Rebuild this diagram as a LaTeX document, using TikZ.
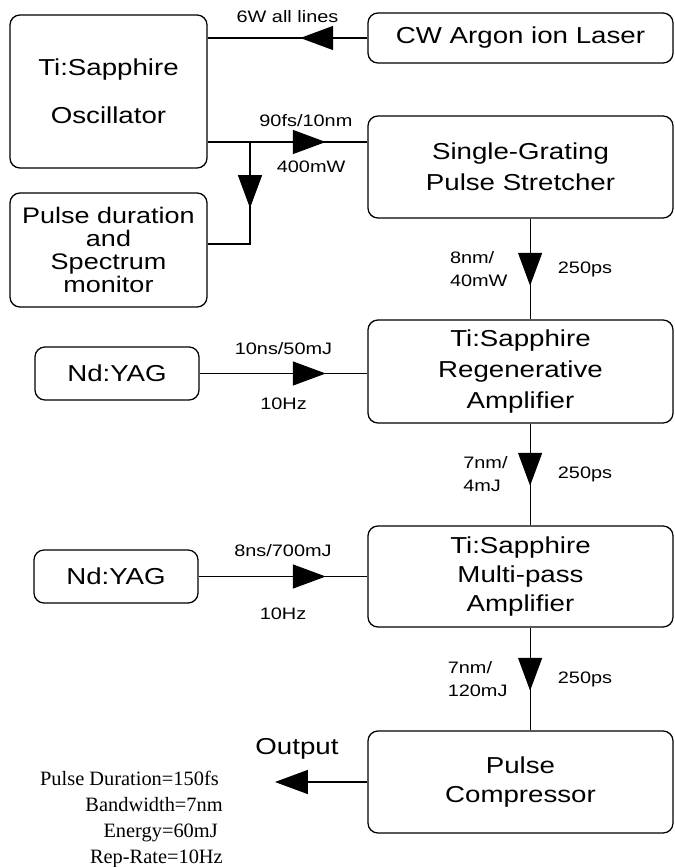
\documentclass[tikz,border=0pt]{standalone}
\usepackage{fontspec}
\setmainfont{Liberation Serif}
\setsansfont{Liberation Sans}[FakeStretch=1.2]
\usepackage{tikz}
\usetikzlibrary{arrows.meta, positioning, decorations.markings}

\begin{document}
\begin{tikzpicture}[x=0.025cm, y=-0.025cm]

    % Define styles for the nodes
    \tikzstyle{device} = [
        rectangle, rounded corners=0.25cm, draw=black, line width=0.9pt,
        align=center, inner sep=0pt, minimum width=7.625cm,
        font=\sffamily\fontsize{16.4}{22}\selectfont
    ]
    \tikzstyle{pump} = [device, minimum width=4.1cm, minimum height=1.325cm]
    \tikzstyle{tag} = [inner sep=0pt, align=left, font=\sffamily\fontsize{11.8}{16.4}\selectfont]
    \tikzstyle{spec} = [inner sep=0pt, anchor=base east, font=\fontsize{14.5}{16}\selectfont]
    \tikzstyle{arrow} = [line width=0.8pt, -{Triangle[length=0.82cm, width=0.6cm]}]
    \tikzset{beam/.style={line width=0.8pt, postaction={decorate},
        decoration={markings, mark=at position #1 with {\arrow{Triangle[length=0.82cm, width=0.6cm]}}}}}

    \useasboundingbox (0,0) rectangle (675,867);

    % Nodes
    \node (osc) [device, minimum width=4.925cm, minimum height=3.825cm] at (108.5,91.5) {Ti:Sapphire\\[12pt]Oscillator};
    \node (argon) [device, minimum height=1.25cm] at (520.5,38) {CW Argon ion Laser};
    \node (stretcher) [device, minimum height=2.55cm] at (520.5,167) {Single-Grating\\Pulse Stretcher};
    \node (monitor) [device, minimum width=4.925cm, minimum height=2.85cm, font=\sffamily\fontsize{16}{16.2}\selectfont] at (108.5,250) {Pulse duration\\and\\Spectrum\\monitor};
    \node (regen) [device, minimum height=2.575cm] at (520.5,371.5) {Ti:Sapphire\\Regenerative\\Amplifier};
    \node (yag1) [pump] at (117,373.5) {Nd:YAG};
    \node (multipass) [device, minimum height=2.525cm] at (520.5,576.5) {Ti:Sapphire\\[-1.5pt]Multi-pass\\[-1.5pt]Amplifier};
    \node (yag2) [pump] at (116,576.5) {Nd:YAG};
    \node (compressor) [device, minimum height=2.55cm] at (520.5,782) {Pulse\\[-1.5pt]Compressor};
    \node (outtext) [font=\sffamily\fontsize{16.4}{22}\selectfont, inner sep=0pt] at (297,749) {Output};

    \coordinate (split) at (250,142);
    \coordinate (output) at (275,782);

    % Arrows
    \draw [beam=1.675cm] (argon.west) -- (argon.west -| osc.east) node [tag, midway, above=0.36cm] {6W all lines};
    \draw [beam=2.95cm] (osc.east |- split) -- (stretcher.west |- split)
        node [tag, midway, above=0.375cm, xshift=0.46cm] {90fs/10nm}
        node [tag, midway, below=0.45cm, xshift=0.59cm] {400mW};
    \draw [beam=1.65cm] (split) |- ([yshift=0.15cm]monitor.east);
    \draw [beam=1.675cm] ([xshift=0.24cm]stretcher.south) -- ([xshift=0.24cm]regen.north)
        node [tag, midway, left=0.55cm] {8nm/\\40mW}
        node [tag, midway, right=0.68cm] {250ps};
    \draw [beam=3.15cm] (yag1.east) -- (yag1.east -| regen.west)
        node [tag, midway, above=0.46cm] {10ns/50mJ}
        node [tag, midway, below=0.59cm] {10Hz};
    \draw [beam=1.55cm] ([xshift=0.24cm]regen.south) -- ([xshift=0.24cm]multipass.north)
        node [tag, midway, left=0.55cm] {7nm/\\4mJ}
        node [tag, midway, right=0.68cm] {250ps};
    \draw [beam=3.175cm] (yag2.east) -- (yag2.east -| multipass.west)
        node [tag, midway, above=0.49cm] {8ns/700mJ}
        node [tag, midway, below=0.78cm] {10Hz};
    \draw [beam=1.575cm] ([xshift=0.24cm]multipass.south) -- ([xshift=0.24cm]compressor.north)
        node [tag, midway, left=0.55cm] {7nm/\\120mJ}
        node [tag, midway, right=0.68cm] {250ps};
    \draw [arrow] (compressor.west) -- (output);

    % Output data
    \node (duration) [spec] at (219,785) {Pulse Duration=150fs};
    \node (bandwidth) [spec] at (223,811) {Bandwidth=7nm};
    \node (energy) [spec] at (218,837) {Energy=60mJ};
    \node (reprate) [spec] at (223,863) {Rep-Rate=10Hz};

\end{tikzpicture}
\end{document}
